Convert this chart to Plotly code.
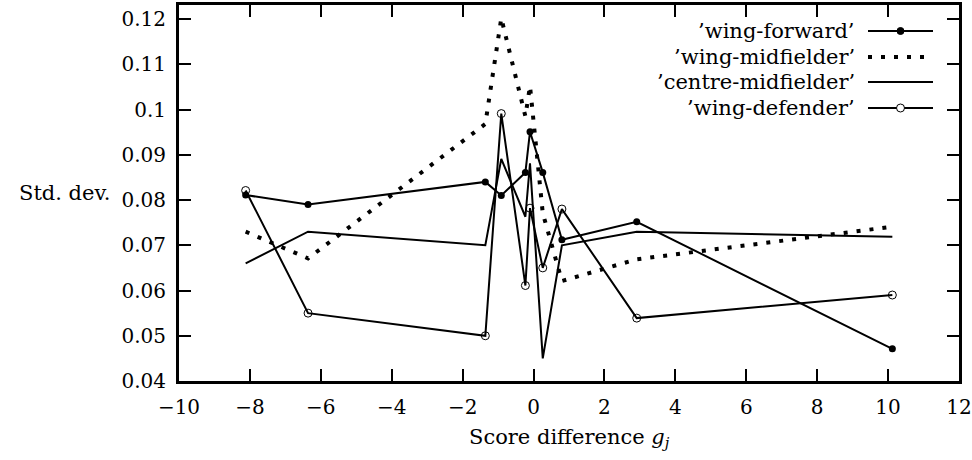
import plotly.graph_objects as go

# ---- data ----
score_diff = [-8.12, -6.36, -1.36, -0.91, -0.23, -0.10, 0.26, 0.80, 2.91, 10.12]
wing_forward = [0.0811, 0.0790, 0.0840, 0.0810, 0.0861, 0.0951, 0.0861, 0.0712, 0.0752, 0.0471]
wing_midfielder = [0.0730, 0.0671, 0.0968, 0.1202, 0.0985, 0.1052, 0.0771, 0.0621, 0.0669, 0.0741]
centre_midfielder = [0.0660, 0.0730, 0.0700, 0.0891, 0.0763, 0.0881, 0.0450, 0.0700, 0.0730, 0.0719]
wing_defender = [0.0821, 0.0550, 0.0500, 0.0991, 0.0611, 0.0782, 0.0650, 0.0780, 0.0539, 0.0590]

series_names = ["\u2019wing-forward\u2019", "\u2019wing-midfielder\u2019",
                "\u2019centre-midfielder\u2019", "\u2019wing-defender\u2019"]

x_ticks = [-10, -8, -6, -4, -2, 0, 2, 4, 6, 8, 10, 12]
y_ticks = [0.04, 0.05, 0.06, 0.07, 0.08, 0.09, 0.10, 0.11, 0.12]
y_ticktext = ["0.04", "0.05", "0.06", "0.07", "0.08", "0.09", "0.1", "0.11", "0.12"]

FONT = "DejaVu Serif"
FS_TICK = 20
FS_TEXT = 21

W, H = 972, 460
L, R, T, B = 179, 959, 5, 381  # plot area in pixels

styles = [
    dict(mode="lines+markers", line=dict(color="black", width=2),
         marker=dict(symbol="circle", size=7, color="black")),
    dict(mode="lines", line=dict(color="black", width=4, dash="4px,9px")),
    dict(mode="lines", line=dict(color="black", width=2)),
    dict(mode="lines+markers", line=dict(color="black", width=2),
         marker=dict(symbol="circle-open", size=8, color="black", line=dict(width=1, color="black"))),
]
data = [wing_forward, wing_midfielder, centre_midfielder, wing_defender]

fig = go.Figure()
for name, ys, st in zip(series_names, data, styles):
    fig.add_trace(go.Scatter(x=score_diff, y=ys, name=name, showlegend=False, **st))


def px_x(p):
    return (p - L) / (R - L)


def px_y(p):
    return (B - p) / (B - T)


# ---- manual legend (text left, sample right, like gnuplot) ----
legend_rows = [31, 57, 82, 108]
text_right = 857
samp_x0, samp_x1 = 868, 933
shapes = []
annotations = []
for i, (name, st) in enumerate(zip(series_names, styles)):
    yy = legend_rows[i]
    annotations.append(dict(x=px_x(text_right), y=px_y(yy), xref="paper", yref="paper",
                            text=name, showarrow=False, xanchor="right", yanchor="middle",
                            font=dict(family=FONT, size=FS_TEXT, color="black")))
    ln = st["line"]
    shapes.append(dict(type="line", xref="paper", yref="paper",
                       x0=px_x(samp_x0), x1=px_x(samp_x1), y0=px_y(yy), y1=px_y(yy),
                       line=dict(color="black", width=ln["width"], dash=ln.get("dash", "solid"))))
    if "marker" in st:
        filled = st["marker"]["symbol"] == "circle"
        r = 3.5 if filled else 4
        cx = px_x((samp_x0 + samp_x1) / 2)
        shapes.append(dict(type="circle", xref="paper", yref="paper",
                           xsizemode="pixel", ysizemode="pixel",
                           xanchor=cx, yanchor=px_y(yy), x0=-r, x1=r, y0=-r, y1=r,
                           fillcolor="black" if filled else "white",
                           line=dict(color="black", width=1)))

annotations.append(dict(x=0, y=0.5, xref="paper", yref="paper", text="Std. dev.",
                        showarrow=False, xanchor="right", yanchor="middle", xshift=-66,
                        font=dict(family=FONT, size=FS_TEXT, color="black")))
annotations.append(dict(x=0.5, y=0, xref="paper", yref="paper",
                        text="Score difference <i>g</i><sub><i>j</i></sub>",
                        showarrow=False, xanchor="center", yanchor="middle", yshift=-57,
                        font=dict(family=FONT, size=FS_TEXT, color="black")))

axis_common = dict(showgrid=False, zeroline=False, showline=True, linecolor="black",
                   linewidth=3, mirror="ticks", ticks="inside", ticklen=12, tickwidth=2,
                   tickcolor="black", tickfont=dict(family=FONT, size=FS_TICK, color="black"))

fig.update_layout(
    width=W, height=H,
    margin=dict(l=L, r=W - R, t=T, b=H - B),
    paper_bgcolor="white", plot_bgcolor="white",
    font=dict(family=FONT, size=FS_TEXT, color="black"),
    xaxis=dict(range=[-10, 12], tickvals=x_ticks, automargin=False, ticklabelstandoff=6, **axis_common),
    yaxis=dict(range=[0.04, 0.1231], tickvals=y_ticks, ticktext=y_ticktext, automargin=False,
               ticklabelstandoff=6, **axis_common),
    shapes=shapes, annotations=annotations, showlegend=False,
)

fig.write_html("out.html", config={"displayModeBar": False},
               post_script="document.body.style.margin='0';document.body.style.padding='0';")
